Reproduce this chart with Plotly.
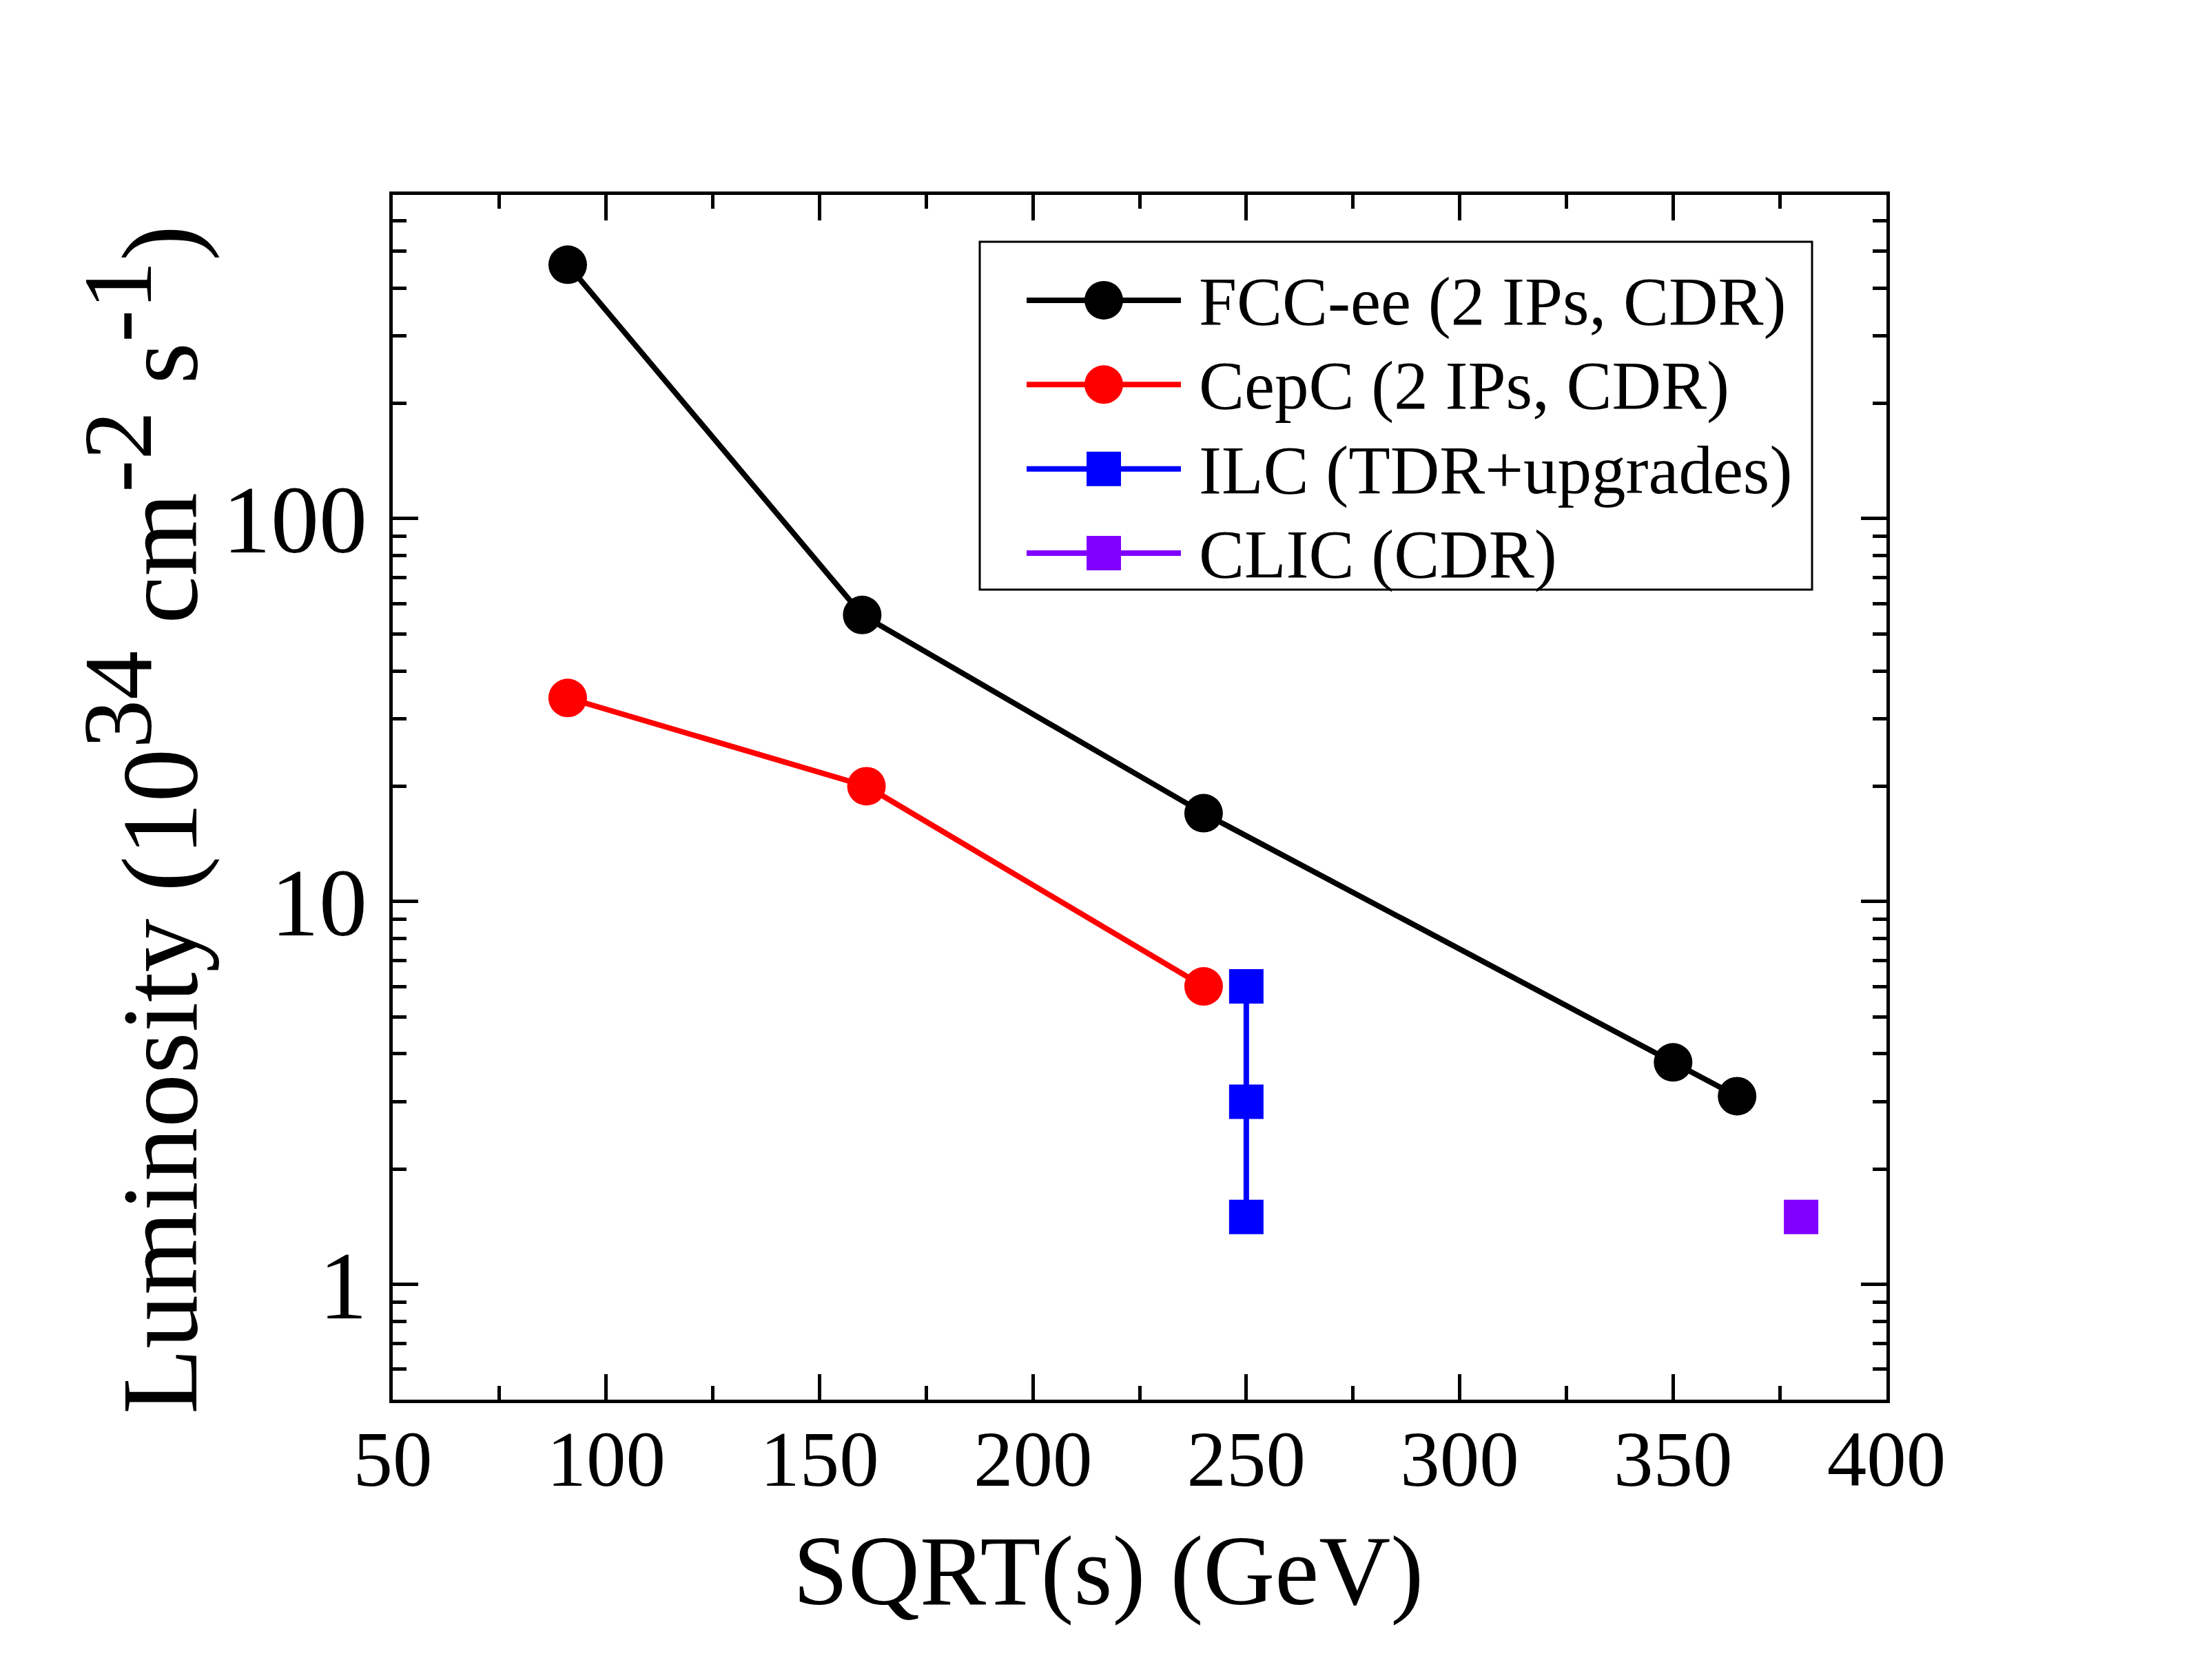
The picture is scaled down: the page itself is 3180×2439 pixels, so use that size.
import plotly.graph_objects as go

# ---------------- data ----------------
fcc_x = [91, 160, 240, 350, 365]
fcc_y = [460, 56, 17, 3.8, 3.1]
cepc_x = [91, 161, 240]
cepc_y = [34, 20, 6]
ilc_x = [250, 250, 250]
ilc_y = [6, 3, 1.5]
clic_x = [380]
clic_y = [1.5]

legend_names = ["FCC-ee (2 IPs, CDR)", "CepC (2 IPs, CDR)", "ILC (TDR+upgrades)", "CLIC (CDR)"]
legend_colors = ["#000000", "#FF0000", "#0000FF", "#8000FF"]
legend_symbols = ["circle", "circle", "square", "square"]

x_ticks = [50, 100, 150, 200, 250, 300, 350, 400]
y_ticks = [1, 10, 100]
y_ticktext = ["1", "10", "100"]
y_minor = [0.5, 0.6, 0.7, 0.8, 0.9, 2, 3, 4, 5, 6, 7, 8, 9,
           20, 30, 40, 50, 60, 70, 80, 90, 200, 300, 400, 500, 600, 700]

FONT = "Liberation Serif"
W, H = 3180, 2439
L, R, T, B = 570, 442, 283, 407
pw, ph = W - L - R, H - T - B

def px_x(p):
    return (p - L) / pw

def px_y(p):
    return (H - B - p) / ph

LW = 8
fig = go.Figure()
series = [
    (fcc_x, fcc_y, 0, 56),
    (cepc_x, cepc_y, 1, 56),
    (ilc_x, ilc_y, 2, 50),
    (clic_x, clic_y, 3, 50),
]
for xs, ys, i, ms in series:
    fig.add_trace(go.Scatter(
        x=xs, y=ys, mode="lines+markers", name=legend_names[i],
        line=dict(color=legend_colors[i], width=LW),
        marker=dict(color=legend_colors[i], size=ms, symbol=legend_symbols[i], line=dict(width=0)),
        showlegend=False, xaxis="x", yaxis="y"))

# custom legend glyphs (on an overlay axis)
rows = [3, 2, 1, 0]
for i in range(4):
    ms = 56 if legend_symbols[i] == "circle" else 50
    fig.add_trace(go.Scatter(
        x=[0, 0.5, 1], y=[rows[i]] * 3, mode="lines",
        line=dict(color=legend_colors[i], width=LW),
        showlegend=False, hoverinfo="skip", xaxis="x2", yaxis="y2"))
    fig.add_trace(go.Scatter(
        x=[0.5], y=[rows[i]], mode="markers",
        marker=dict(color=legend_colors[i], size=ms, symbol=legend_symbols[i], line=dict(width=0)),
        showlegend=False, hoverinfo="skip", xaxis="x2", yaxis="y2"))
    fig.add_annotation(
        x=1, y=rows[i], xref="x2", yref="y2", text=legend_names[i],
        showarrow=False, xanchor="left", yanchor="middle", xshift=24, yshift=-2,
        font=dict(family=FONT, size=99, color="black"))

box_l, box_r, box_t, box_b = 1422, 2630, 351, 856
fig.add_shape(type="rect", xref="paper", yref="paper",
              x0=px_x(box_l), x1=px_x(box_r), y0=px_y(box_b), y1=px_y(box_t),
              line=dict(color="black", width=3), fillcolor="rgba(0,0,0,0)", layer="above")

axis_common = dict(
    showline=True, linecolor="black", linewidth=5, mirror="allticks",
    ticks="inside", ticklen=37, tickwidth=5, tickcolor="black",
    showgrid=False, zeroline=False,
)

sup = lambda s: '<sup><span style="font-size:142px">%s</span></sup>' % s
ytitle = "Luminosity (10" + sup("34") + " cm" + sup("-2") + " s" + sup("-1") + ")"

fig.update_layout(
    width=W, height=H,
    margin=dict(l=L, r=R, t=T, b=B, pad=0),
    paper_bgcolor="white", plot_bgcolor="white",
    font=dict(family=FONT, color="black"),
    showlegend=False,
    xaxis=dict(
        range=[50, 400], tickmode="array", tickvals=x_ticks,
        tickfont=dict(family=FONT, size=115, color="black"),
        ticklabelstandoff=-18,
        minor=dict(dtick=25, tick0=50, ticks="inside", ticklen=20, tickwidth=5, tickcolor="black"),
        **axis_common),
    yaxis=dict(
        type="log", range=[-0.30103, 2.845098],
        tickmode="array", tickvals=y_ticks, ticktext=y_ticktext,
        tickfont=dict(family=FONT, size=140, color="black"),
        ticklabelstandoff=4,
        minor=dict(tickmode="array", tickvals=y_minor, ticks="inside", ticklen=20, tickwidth=5, tickcolor="black"),
        **axis_common),
    xaxis2=dict(domain=[px_x(1490), px_x(1714)], range=[0, 1], visible=False, anchor="y2"),
    yaxis2=dict(domain=[px_y(box_b), px_y(box_t)], range=[-0.433, 3.694], visible=False, anchor="x2"),
)

# axis titles
fig.add_annotation(
    x=px_x(1608), y=px_y(2280), xref="paper", yref="paper", text="SQRT(s) (GeV)",
    showarrow=False, xanchor="center", yanchor="middle",
    font=dict(family=FONT, size=144, color="black"))
fig.add_annotation(
    x=px_x(205), y=px_y(1190), xref="paper", yref="paper", text=ytitle,
    textangle=-90, showarrow=False, xanchor="center", yanchor="middle",
    font=dict(family=FONT, size=156, color="black"))

fig.write_html("out.html")
